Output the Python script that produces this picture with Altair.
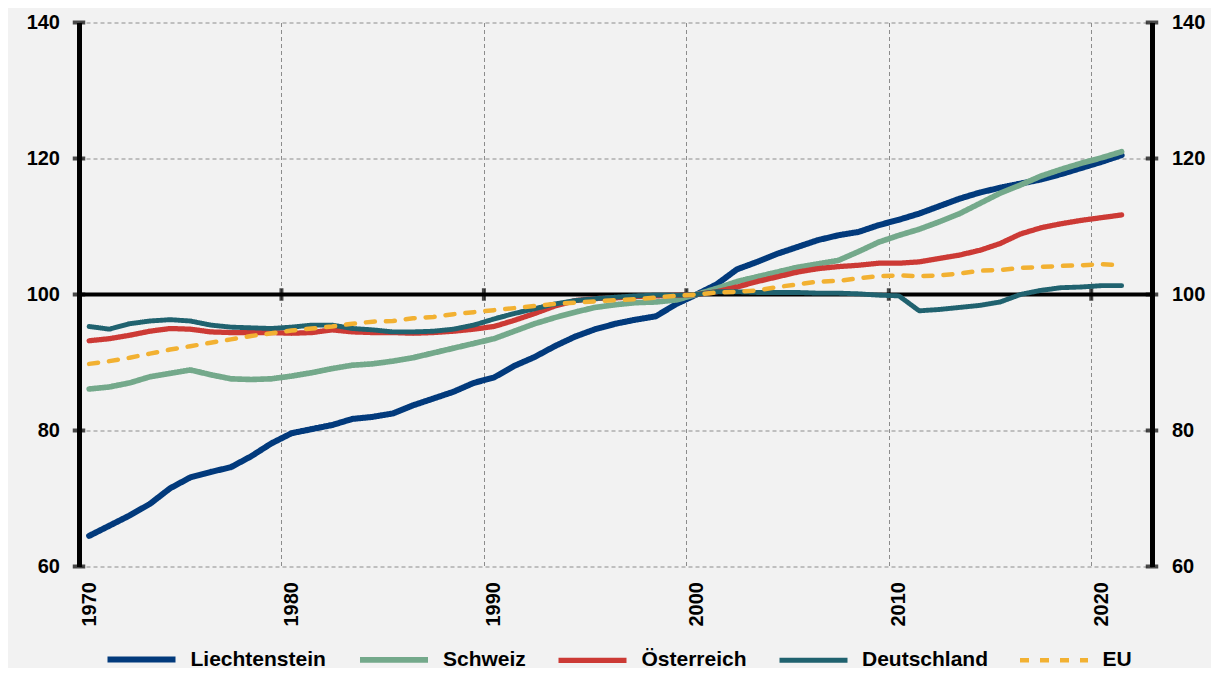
import altair as alt
import pandas as pd

years = list(range(1970, 2022))

liechtenstein = [64.5, 66.0, 67.5, 69.2, 71.5, 73.1, 73.9, 74.6, 76.2, 78.1,
                 79.6, 80.2, 80.8, 81.7, 82.0, 82.5, 83.7, 84.7, 85.7, 87.0,
                 87.8, 89.5, 90.8, 92.4, 93.8, 94.9, 95.7, 96.3, 96.8, 98.6,
                 100.0, 101.5, 103.7, 104.8, 106.0, 107.0, 108.0, 108.7, 109.2, 110.2,
                 111.0, 111.9, 113.0, 114.1, 115.0, 115.7, 116.3, 116.9, 117.7, 118.6,
                 119.5, 120.5]
schweiz = [86.1, 86.4, 87.0, 87.9, 88.4, 88.9, 88.2, 87.6, 87.5, 87.6,
           88.0, 88.5, 89.1, 89.6, 89.8, 90.2, 90.7, 91.4, 92.1, 92.8,
           93.5, 94.6, 95.7, 96.6, 97.4, 98.1, 98.5, 98.8, 98.9, 99.2,
           100.0, 100.9, 101.9, 102.6, 103.3, 104.0, 104.5, 105.0, 106.3, 107.7,
           108.7, 109.6, 110.7, 111.9, 113.4, 114.9, 116.1, 117.4, 118.4, 119.3,
           120.1, 121.0]
oesterreich = [93.2, 93.5, 94.0, 94.6, 95.0, 94.9, 94.5, 94.4, 94.4, 94.4,
               94.3, 94.4, 94.8, 94.5, 94.4, 94.4, 94.3, 94.4, 94.6, 94.9,
               95.3, 96.2, 97.2, 98.3, 99.1, 99.4, 99.5, 99.7, 99.8, 99.9,
               100.0, 100.4, 101.1, 101.9, 102.6, 103.3, 103.8, 104.1, 104.3, 104.6,
               104.6, 104.8, 105.3, 105.8, 106.5, 107.5, 108.9, 109.8, 110.4, 110.9,
               111.3, 111.7]
deutschland = [95.3, 94.9, 95.7, 96.1, 96.3, 96.1, 95.5, 95.2, 95.1, 95.0,
               95.2, 95.5, 95.5, 95.0, 94.8, 94.5, 94.5, 94.6, 94.9, 95.5,
               96.4, 97.2, 97.9, 98.6, 99.1, 99.4, 99.6, 99.8, 99.9, 99.9,
               100.0, 100.4, 100.4, 100.3, 100.3, 100.3, 100.2, 100.2, 100.1, 99.9,
               99.8, 97.6, 97.8, 98.1, 98.4, 98.9, 100.0, 100.6, 101.0, 101.1,
               101.3, 101.3]
eu = [89.8, 90.2, 90.7, 91.3, 91.9, 92.4, 92.9, 93.4, 93.9, 94.3,
      94.7, 95.0, 95.3, 95.7, 96.0, 96.1, 96.5, 96.7, 97.1, 97.4,
      97.7, 98.0, 98.3, 98.6, 98.8, 99.0, 99.15, 99.3, 99.55, 99.8,
      100.0, 100.3, 100.4, 100.6, 101.1, 101.5, 101.9, 102.0, 102.4, 102.7,
      102.8, 102.7, 102.8, 103.1, 103.5, 103.6, 103.9, 104.05, 104.2, 104.3,
      104.45, 104.3]

series_names = ["Liechtenstein", "Schweiz", "Österreich", "Deutschland", "EU"]
series_values = [liechtenstein, schweiz, oesterreich, deutschland, eu]
series_colors = ["#023a7c", "#74a98b", "#cc3a35", "#20626f", "#f2b132"]
series_dashes = [[1, 0], [1, 0], [1, 0], [1, 0], [9, 11]]
series_widths = [6, 4.5, 4.5, 4.5, 5]

y_ticks = [60, 80, 100, 120, 140]
x_ticks = [1970, 1980, 1990, 2000, 2010, 2020]
x_inner_ticks = [1980, 1990, 2000, 2010, 2020]
X_DOMAIN = [1970, 2023]
Y_DOMAIN = [60, 140]

rows = []
for name, vals in zip(series_names, series_values):
    for yr, v in zip(years, vals):
        rows.append({"series": name, "year": yr, "pos": yr + 0.5, "value": v})
df = pd.DataFrame(rows)

FONT = "Liberation Sans"
xs = alt.Scale(domain=X_DOMAIN, nice=False, zero=False)
ys = alt.Scale(domain=Y_DOMAIN, nice=False, zero=False)

legend = alt.Legend(
    title=None, orient="none", direction="horizontal", legendX=25.5, legendY=600,
    symbolType="stroke", symbolSize=4624, symbolStrokeWidth=5,
    labelFont=FONT, labelFontSize=21, labelFontWeight="bold", labelColor="black",
    columnPadding=21.5, labelOffset=12, padding=0, labelLimit=300,
)

x_axis = alt.Axis(values=x_ticks, format="d", labelAngle=270, labelOffset=10,
                  labelPadding=15, ticks=False, tickSize=0, domain=False,
                  grid=True, gridColor="#8c8c8c", gridDash=[4, 3], gridWidth=1,
                  labelFont=FONT, labelFontSize=20, labelFontWeight="bold",
                  labelColor="black")
y_axis_left = alt.Axis(values=y_ticks, orient="left", ticks=False, tickSize=0,
                       labelPadding=19.5, domain=True, domainColor="black", domainWidth=5,
                       grid=True, gridColor="#8c8c8c", gridDash=[4, 3], gridWidth=1,
                       labelFont=FONT, labelFontSize=20, labelFontWeight="bold",
                       labelColor="black")

color_enc = alt.Color("series:N", scale=alt.Scale(domain=series_names, range=series_colors),
                      legend=legend)
dash_enc = alt.StrokeDash("series:N", scale=alt.Scale(domain=series_names, range=series_dashes),
                          legend=legend)
width_enc = alt.StrokeWidth("series:N", scale=alt.Scale(domain=series_names, range=series_widths),
                            legend=None)

line_layers = []
for i, name in enumerate(series_names):
    if i == 0:
        xe = alt.X("pos:Q", scale=xs, title=None, axis=x_axis)
        ye = alt.Y("value:Q", scale=ys, title=None, axis=y_axis_left)
    else:
        xe = alt.X("pos:Q", scale=xs, axis=None)
        ye = alt.Y("value:Q", scale=ys, axis=None)
    line_layers.append(
        alt.Chart(df).transform_filter(alt.datum.series == name)
        .mark_line(strokeCap="round", strokeJoin="round")
        .encode(x=xe, y=ye, color=color_enc, strokeDash=dash_enc, strokeWidth=width_enc)
    )

ref_df = pd.DataFrame({"value": [100]})
rule100 = alt.Chart(ref_df).mark_rule(color="black", strokeWidth=4).encode(
    y=alt.Y("value:Q", scale=ys, axis=None)
)

xt_df = pd.DataFrame({"pos": x_inner_ticks, "value": [100] * len(x_inner_ticks)})
xticks100 = alt.Chart(xt_df).mark_tick(orient="vertical", size=12.5, thickness=4, color="black").encode(
    x=alt.X("pos:Q", scale=xs, axis=None),
    y=alt.Y("value:Q", scale=ys, axis=None),
)

yt_rows = [{"pos": edge, "value": v} for edge in X_DOMAIN for v in y_ticks]
yt_df = pd.DataFrame(yt_rows)
yticks_left = alt.Chart(yt_df).transform_filter(alt.datum.pos == X_DOMAIN[0]).mark_tick(
    orient="horizontal", size=12.5, thickness=4, color="black").encode(
    x=alt.X("pos:Q", scale=xs, axis=None),
    y=alt.Y("value:Q", scale=ys, axis=None),
)
yticks_right = alt.Chart(yt_df).transform_filter(alt.datum.pos == X_DOMAIN[1]).mark_tick(
    orient="horizontal", size=12.5, thickness=4, color="black").encode(
    x=alt.X("pos:Q", scale=xs, axis=None),
    y=alt.Y("value:Q", scale=ys, title=None,
            axis=alt.Axis(values=y_ticks, orient="right", ticks=False, tickSize=0,
                          labelPadding=19.5, domain=True, domainColor="black", domainWidth=5,
                          grid=False, labelFont=FONT, labelFontSize=20, labelFontWeight="bold",
                          labelColor="black", labelAlign="left")),
)

chart = alt.layer(rule100, xticks100, *line_layers, yticks_left, yticks_right).resolve_axis(
    y="independent", x="independent"
).properties(
    width=1073, height=544,
    autosize=alt.AutoSizeParams(type="none"),
    padding={"left": 71, "top": 14.5, "right": 59, "bottom": 101.5},
    background="#f2f2f2",
).configure_view(strokeWidth=0)

chart.save("out.html", embed_options={"renderer": "svg", "actions": False})
